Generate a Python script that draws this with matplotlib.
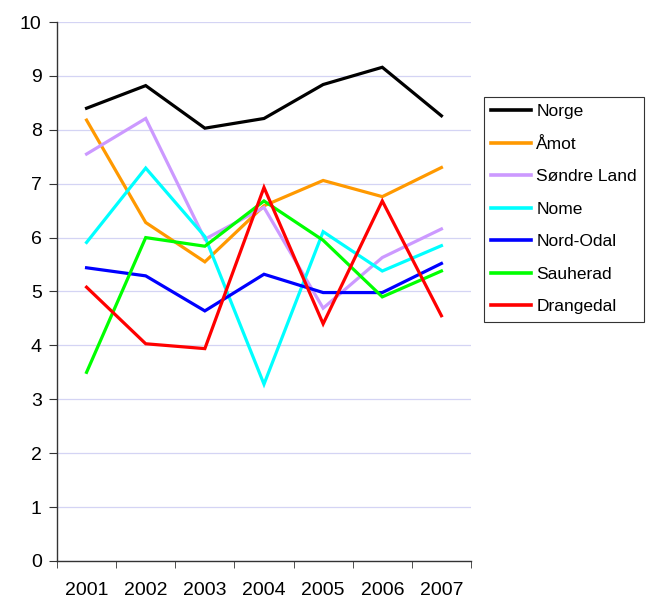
import matplotlib.pyplot as plt
import numpy as np

plt.rcParams['font.family'] = ['Liberation Sans', 'DejaVu Sans']

years = ["2001", "2002", "2003", "2004", "2005", "2006", "2007"]

norge = [8.40, 8.82, 8.03, 8.21, 8.84, 9.16, 8.26]
amot = [8.18, 6.28, 5.55, 6.59, 7.06, 6.76, 7.30]
sondre_land = [7.55, 8.21, 5.97, 6.56, 4.69, 5.63, 6.16]
nome = [5.91, 7.29, 6.02, 3.28, 6.11, 5.38, 5.85]
nord_odal = [5.44, 5.29, 4.64, 5.32, 4.98, 4.98, 5.52]
sauherad = [3.50, 6.00, 5.84, 6.68, 5.95, 4.90, 5.38]
drangedal = [5.08, 4.03, 3.94, 6.93, 4.40, 6.68, 4.55]

series = [
    ("Norge", norge, "#000000"),
    ("Åmot", amot, "#ff9900"),
    ("Søndre Land", sondre_land, "#cc99ff"),
    ("Nome", nome, "#00ffff"),
    ("Nord-Odal", nord_odal, "#0000ff"),
    ("Sauherad", sauherad, "#00ff00"),
    ("Drangedal", drangedal, "#ff0000"),
]

fig = plt.figure(figsize=(6.52, 6.03), dpi=100)
ax = fig.add_axes([0.0874, 0.0697, 0.635, 0.8938])

x = np.arange(len(years))
for name, vals, col in series:
    ax.plot(x, vals, color=col, lw=2.3, label=name, solid_joinstyle='miter')

ax.set_xlim(-0.5, len(years) - 0.5)
ax.set_ylim(0, 10)
ax.set_yticks(range(0, 11))
ax.set_xticks(x)
ax.set_xticklabels(years)
ax.set_xticks(np.arange(-0.5, len(years)), minor=True)
ax.tick_params(axis='x', which='major', length=0, pad=15, labelsize=14)
ax.tick_params(axis='x', which='minor', length=5, direction='out', color='#333333')
ax.tick_params(axis='y', length=6, direction='out', labelsize=14, color='#333333', pad=5)

ax.grid(axis='y', color='#d4d4f4', lw=0.9)
ax.set_axisbelow(True)
for s in ['top', 'right']:
    ax.spines[s].set_visible(False)
for s in ['left', 'bottom']:
    ax.spines[s].set_color('#333333')
    ax.spines[s].set_linewidth(1.0)

leg = ax.legend(loc='upper left', bbox_to_anchor=(1.031, 0.861), fontsize=12.5,
                fancybox=False, edgecolor='#333333', framealpha=1,
                handlelength=2.3, handletextpad=0.3, labelspacing=1.0,
                borderpad=0.42, borderaxespad=0)
leg.get_frame().set_linewidth(0.8)
for h in leg.get_lines():
    h.set_linewidth(2.6)

fig.savefig("out.png", dpi=100)
